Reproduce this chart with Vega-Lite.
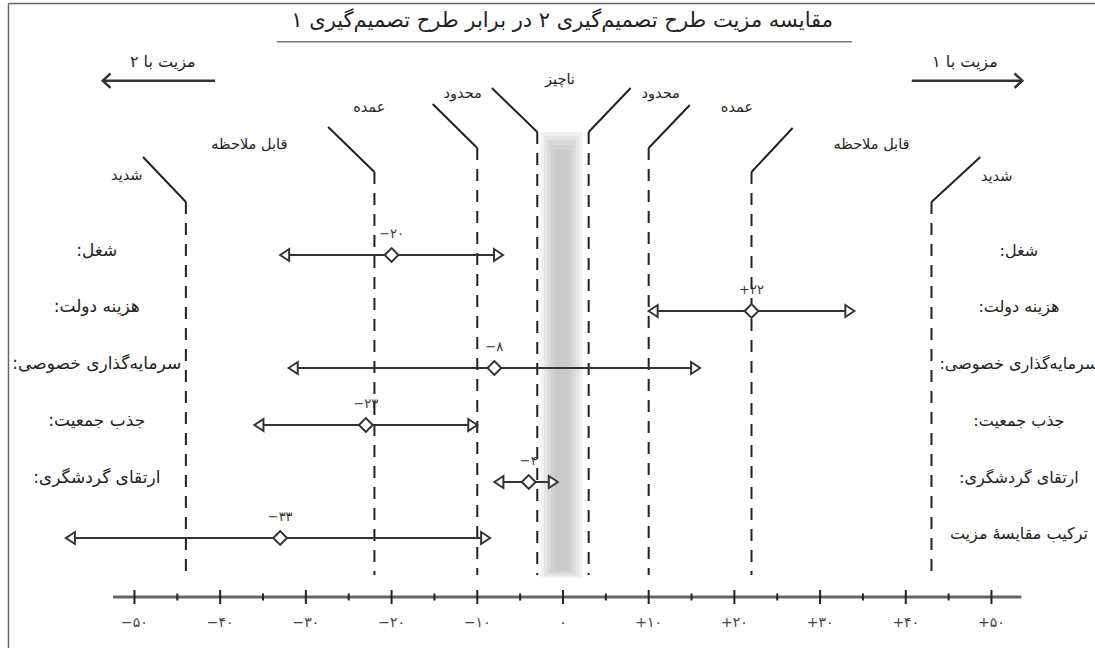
{
 "$schema": "https://vega.github.io/schema/vega-lite/v6.json",
 "width": 1095, "height": 648, "padding": 0, "autosize": {"type": "none"},
 "background": "white",
 "config": {"view": {"stroke": null}},
 "datasets": {
  "rows": [
   {"right": "‫شغل:‬", "left": "‫شغل:‬", "lo": -33, "val": -20, "hi": -7, "y": 255, "lab": "−۲۰"},
   {"right": "‫هزینه دولت:‬", "left": "‫هزینه دولت:‬", "lo": 10, "val": 22, "hi": 34, "y": 311, "lab": "+۲۲"},
   {"right": "‫سرمایه‌گذاری خصوصی:‬", "left": "‫سرمایه‌گذاری خصوصی:‬", "lo": -32, "val": -8, "hi": 16, "y": 368, "lab": "−۸"},
   {"right": "‫جذب جمعیت:‬", "left": "‫جذب جمعیت:‬", "lo": -36, "val": -23, "hi": -10, "y": 425, "lab": "−۲۳"},
   {"right": "‫ارتقای گردشگری:‬", "left": "‫ارتقای گردشگری:‬", "lo": -8, "val": -4, "hi": -0.6, "y": 482, "lab": "−۴"},
   {"right": "‫ترکیب مقایسهٔ مزیت‬", "left": "", "lo": -58, "val": -33, "hi": -8.5, "y": 538, "lab": "−۳۳"}
  ],
  "thresholds": [
   {"t": -44, "top": 202, "bottom": 575, "tx": -49.0, "ty": 157},
   {"t": -22, "top": 172, "bottom": 575, "tx": -27.4, "ty": 127},
   {"t": -10, "top": 148, "bottom": 575, "tx": -15.2, "ty": 104},
   {"t": -3, "top": 132, "bottom": 575, "tx": -8.3, "ty": 88},
   {"t": 3, "top": 132, "bottom": 575, "tx": 7.9, "ty": 88},
   {"t": 10, "top": 148, "bottom": 575, "tx": 14.8, "ty": 105},
   {"t": 22, "top": 172, "bottom": 575, "tx": 26.8, "ty": 128},
   {"t": 43, "top": 202, "bottom": 575, "tx": 48.7, "ty": 157}
  ],
  "levels": [
   {"text": "‫شدید‬", "x": -50.9, "y": 176},
   {"text": "‫شدید‬", "x": 50.6, "y": 177},
   {"text": "‫قابل ملاحظه‬", "x": -36.6, "y": 145},
   {"text": "‫قابل ملاحظه‬", "x": 36.0, "y": 145},
   {"text": "‫عمده‬", "x": -22.6, "y": 108},
   {"text": "‫عمده‬", "x": 20.3, "y": 108},
   {"text": "‫محدود‬", "x": -11.7, "y": 94},
   {"text": "‫محدود‬", "x": 11.4, "y": 94},
   {"text": "‫ناچیز‬", "x": -0.35, "y": 80}
  ],
  "band": [
   {"x": -2.6, "x2": 2.3, "y": 132, "y2": 578},
   {"x": -2.2, "x2": 1.9, "y": 136, "y2": 576},
   {"x": -1.8, "x2": 1.5, "y": 140, "y2": 574},
   {"x": -1.4, "x2": 1.1, "y": 145, "y2": 572},
   {"x": -1.0, "x2": 0.7, "y": 150, "y2": 570}
  ],
  "major": [
   {"v": -50, "lab": "−۵۰"}, {"v": -40, "lab": "−۴۰"}, {"v": -30, "lab": "−۳۰"}, {"v": -20, "lab": "−۲۰"}, {"v": -10, "lab": "−۱۰"},
   {"v": 0, "lab": "۰"}, {"v": 10, "lab": "+۱۰"}, {"v": 20, "lab": "+۲۰"}, {"v": 30, "lab": "+۳۰"}, {"v": 40, "lab": "+۴۰"}, {"v": 50, "lab": "+۵۰"}
  ],
  "minor": [{"v": -45}, {"v": -35}, {"v": -25}, {"v": -15}, {"v": -5}, {"v": 5}, {"v": 15}, {"v": 25}, {"v": 35}, {"v": 45}],
  "frame": [
   {"x": -64.7, "y": 3.5, "x2": -64.7, "y2": 648},
   {"x": -64.7, "y": 3.5, "x2": 62.08, "y2": 3.5}
  ],
  "dirArrows": [
   {"dir": "left", "from": -40.6, "to": -53.7, "y": 80.7, "text": "‫مزیت با ۲‬", "tx": -46.7, "ty": 62},
   {"dir": "right", "from": 40.7, "to": 53.6, "y": 80.7, "text": "‫مزیت با ۱‬", "tx": 46.9, "ty": 62}
  ],
  "title": [{"text": "‫مقایسه مزیت طرح تصمیم‌گیری ۲ در برابر طرح تصمیم‌گیری ۱‬", "x": -0.1, "y": 21, "ux": -33.4, "ux2": 33.7, "uy": 41.7}],
  "axisLine": [{"x": -52.5, "x2": 53.5}]
 },
 "layer": [
  {
   "data": {"name": "band"},
   "mark": {"type": "rect", "fill": "#9a9a9a", "opacity": 0.14},
   "encoding": {
    "x": {"field": "x", "type": "quantitative", "scale": {"domain": [-65.69, 62.08], "nice": false, "zero": false}, "axis": null},
    "x2": {"field": "x2"},
    "y": {"field": "y", "type": "quantitative", "scale": {"domain": [0, 648], "reverse": true, "nice": false, "zero": false}, "axis": null},
    "y2": {"field": "y2"}
   }
  },
  {
   "data": {"name": "frame"},
   "mark": {"type": "rule", "stroke": "#666", "strokeWidth": 1.5},
   "encoding": {
    "x": {"field": "x", "type": "quantitative", "scale": {"domain": [-65.69, 62.08], "nice": false, "zero": false}, "axis": null},
    "x2": {"field": "x2"},
    "y": {"field": "y", "type": "quantitative", "scale": {"domain": [0, 648], "reverse": true, "nice": false, "zero": false}, "axis": null},
    "y2": {"field": "y2"}
   }
  },
  {
   "data": {"name": "title"},
   "mark": {"type": "rule", "stroke": "#777", "strokeWidth": 1.5},
   "encoding": {
    "x": {"field": "ux", "type": "quantitative", "scale": {"domain": [-65.69, 62.08], "nice": false, "zero": false}, "axis": null},
    "x2": {"field": "ux2"},
    "y": {"field": "uy", "type": "quantitative", "scale": {"domain": [0, 648], "reverse": true, "nice": false, "zero": false}, "axis": null}
   }
  },
  {
   "data": {"name": "title"},
   "mark": {"type": "text", "font": "DejaVu Sans", "fontSize": 21, "fill": "#222", "align": "center", "baseline": "middle"},
   "encoding": {
    "x": {"field": "x", "type": "quantitative", "scale": {"domain": [-65.69, 62.08], "nice": false, "zero": false}, "axis": null},
    "y": {"field": "y", "type": "quantitative", "scale": {"domain": [0, 648], "reverse": true, "nice": false, "zero": false}, "axis": null},
    "text": {"field": "text"}
   }
  },
  {
   "data": {"name": "axisLine"},
   "mark": {"type": "rule", "stroke": "#666", "strokeWidth": 3},
   "encoding": {
    "x": {"field": "x", "type": "quantitative", "scale": {"domain": [-65.69, 62.08], "nice": false, "zero": false}, "axis": null},
    "x2": {"field": "x2"},
    "y": {"datum": 597, "type": "quantitative", "scale": {"domain": [0, 648], "reverse": true, "nice": false, "zero": false}, "axis": null}
   }
  },
  {
   "data": {"name": "major"},
   "mark": {"type": "rule", "stroke": "#222", "strokeWidth": 2},
   "encoding": {
    "x": {"field": "v", "type": "quantitative", "scale": {"domain": [-65.69, 62.08], "nice": false, "zero": false}, "axis": null},
    "y": {"datum": 590, "type": "quantitative", "scale": {"domain": [0, 648], "reverse": true, "nice": false, "zero": false}, "axis": null},
    "y2": {"datum": 604}
   }
  },
  {
   "data": {"name": "minor"},
   "mark": {"type": "rule", "stroke": "#222", "strokeWidth": 2},
   "encoding": {
    "x": {"field": "v", "type": "quantitative", "scale": {"domain": [-65.69, 62.08], "nice": false, "zero": false}, "axis": null},
    "y": {"datum": 593.5, "type": "quantitative", "scale": {"domain": [0, 648], "reverse": true, "nice": false, "zero": false}, "axis": null},
    "y2": {"datum": 600.5}
   }
  },
  {
   "data": {"name": "major"},
   "mark": {"type": "text", "font": "DejaVu Sans", "fontSize": 14, "fill": "#444", "align": "center", "baseline": "middle"},
   "encoding": {
    "x": {"field": "v", "type": "quantitative", "scale": {"domain": [-65.69, 62.08], "nice": false, "zero": false}, "axis": null},
    "y": {"datum": 623, "type": "quantitative", "scale": {"domain": [0, 648], "reverse": true, "nice": false, "zero": false}, "axis": null},
    "text": {"field": "lab"}
   }
  },
  {
   "data": {"name": "thresholds"},
   "mark": {"type": "rule", "stroke": "#222", "strokeWidth": 2, "strokeDash": [12, 9]},
   "encoding": {
    "x": {"field": "t", "type": "quantitative", "scale": {"domain": [-65.69, 62.08], "nice": false, "zero": false}, "axis": null},
    "y": {"field": "top", "type": "quantitative", "scale": {"domain": [0, 648], "reverse": true, "nice": false, "zero": false}, "axis": null},
    "y2": {"field": "bottom"}
   }
  },
  {
   "data": {"name": "thresholds"},
   "mark": {"type": "rule", "stroke": "#222", "strokeWidth": 2},
   "encoding": {
    "x": {"field": "t", "type": "quantitative", "scale": {"domain": [-65.69, 62.08], "nice": false, "zero": false}, "axis": null},
    "x2": {"field": "tx"},
    "y": {"field": "top", "type": "quantitative", "scale": {"domain": [0, 648], "reverse": true, "nice": false, "zero": false}, "axis": null},
    "y2": {"field": "ty"}
   }
  },
  {
   "data": {"name": "levels"},
   "mark": {"type": "text", "font": "DejaVu Sans", "fontSize": 14.5, "fill": "#222", "align": "center", "baseline": "middle"},
   "encoding": {
    "x": {"field": "x", "type": "quantitative", "scale": {"domain": [-65.69, 62.08], "nice": false, "zero": false}, "axis": null},
    "y": {"field": "y", "type": "quantitative", "scale": {"domain": [0, 648], "reverse": true, "nice": false, "zero": false}, "axis": null},
    "text": {"field": "text"}
   }
  },
  {
   "data": {"name": "dirArrows"},
   "mark": {"type": "rule", "stroke": "#333", "strokeWidth": 2.5},
   "encoding": {
    "x": {"field": "from", "type": "quantitative", "scale": {"domain": [-65.69, 62.08], "nice": false, "zero": false}, "axis": null},
    "x2": {"field": "to"},
    "y": {"field": "y", "type": "quantitative", "scale": {"domain": [0, 648], "reverse": true, "nice": false, "zero": false}, "axis": null}
   }
  },
  {
   "data": {"name": "dirArrows"},
   "mark": {"type": "point", "filled": false, "stroke": "#333", "strokeWidth": 2.5, "size": 144, "opacity": 1},
   "encoding": {
    "x": {"field": "to", "type": "quantitative", "scale": {"domain": [-65.69, 62.08], "nice": false, "zero": false}, "axis": null},
    "y": {"field": "y", "type": "quantitative", "scale": {"domain": [0, 648], "reverse": true, "nice": false, "zero": false}, "axis": null},
    "shape": {"field": "dir", "type": "nominal", "scale": {"domain": ["left", "right"], "range": ["M1.3,-1.2L0,0L1.3,1.2", "M-1.3,-1.2L0,0L-1.3,1.2"]}, "legend": null}
   }
  },
  {
   "data": {"name": "dirArrows"},
   "mark": {"type": "text", "font": "DejaVu Sans", "fontSize": 16, "fill": "#222", "align": "center", "baseline": "middle"},
   "encoding": {
    "x": {"field": "tx", "type": "quantitative", "scale": {"domain": [-65.69, 62.08], "nice": false, "zero": false}, "axis": null},
    "y": {"field": "ty", "type": "quantitative", "scale": {"domain": [0, 648], "reverse": true, "nice": false, "zero": false}, "axis": null},
    "text": {"field": "text"}
   }
  },
  {
   "data": {"name": "rows"},
   "mark": {"type": "rule", "stroke": "#333", "strokeWidth": 2},
   "encoding": {
    "x": {"field": "lo", "type": "quantitative", "scale": {"domain": [-65.69, 62.08], "nice": false, "zero": false}, "axis": null},
    "x2": {"field": "hi"},
    "y": {"field": "y", "type": "quantitative", "scale": {"domain": [0, 648], "reverse": true, "nice": false, "zero": false}, "axis": null}
   }
  },
  {
   "data": {"name": "rows"},
   "mark": {"type": "point", "shape": "M0,0L1.8,-1.2L1.8,1.2Z", "filled": true, "fill": "white", "stroke": "#333", "strokeWidth": 2, "size": 100, "opacity": 1},
   "encoding": {
    "x": {"field": "lo", "type": "quantitative", "scale": {"domain": [-65.69, 62.08], "nice": false, "zero": false}, "axis": null},
    "y": {"field": "y", "type": "quantitative", "scale": {"domain": [0, 648], "reverse": true, "nice": false, "zero": false}, "axis": null}
   }
  },
  {
   "data": {"name": "rows"},
   "mark": {"type": "point", "shape": "M0,0L-1.8,-1.2L-1.8,1.2Z", "filled": true, "fill": "white", "stroke": "#333", "strokeWidth": 2, "size": 100, "opacity": 1},
   "encoding": {
    "x": {"field": "hi", "type": "quantitative", "scale": {"domain": [-65.69, 62.08], "nice": false, "zero": false}, "axis": null},
    "y": {"field": "y", "type": "quantitative", "scale": {"domain": [0, 648], "reverse": true, "nice": false, "zero": false}, "axis": null}
   }
  },
  {
   "data": {"name": "rows"},
   "mark": {"type": "point", "shape": "diamond", "filled": true, "fill": "white", "stroke": "#333", "strokeWidth": 2, "size": 190, "opacity": 1},
   "encoding": {
    "x": {"field": "val", "type": "quantitative", "scale": {"domain": [-65.69, 62.08], "nice": false, "zero": false}, "axis": null},
    "y": {"field": "y", "type": "quantitative", "scale": {"domain": [0, 648], "reverse": true, "nice": false, "zero": false}, "axis": null}
   }
  },
  {
   "data": {"name": "rows"},
   "mark": {"type": "text", "font": "DejaVu Sans", "fontSize": 13, "fill": "#333", "align": "center", "baseline": "middle", "dy": -21},
   "encoding": {
    "x": {"field": "val", "type": "quantitative", "scale": {"domain": [-65.69, 62.08], "nice": false, "zero": false}, "axis": null},
    "y": {"field": "y", "type": "quantitative", "scale": {"domain": [0, 648], "reverse": true, "nice": false, "zero": false}, "axis": null},
    "text": {"field": "lab"}
   }
  },
  {
   "data": {"name": "rows"},
   "mark": {"type": "text", "font": "DejaVu Sans", "fontSize": 17, "fill": "#222", "align": "center", "baseline": "middle", "dy": -4},
   "encoding": {
    "x": {"datum": -54.4, "type": "quantitative", "scale": {"domain": [-65.69, 62.08], "nice": false, "zero": false}, "axis": null},
    "y": {"field": "y", "type": "quantitative", "scale": {"domain": [0, 648], "reverse": true, "nice": false, "zero": false}, "axis": null},
    "text": {"field": "left"}
   }
  },
  {
   "data": {"name": "rows"},
   "mark": {"type": "text", "font": "DejaVu Sans", "fontSize": 16, "fill": "#222", "align": "center", "baseline": "middle", "dy": -4},
   "encoding": {
    "x": {"datum": 53.2, "type": "quantitative", "scale": {"domain": [-65.69, 62.08], "nice": false, "zero": false}, "axis": null},
    "y": {"field": "y", "type": "quantitative", "scale": {"domain": [0, 648], "reverse": true, "nice": false, "zero": false}, "axis": null},
    "text": {"field": "right"}
   }
  }
 ]
}
